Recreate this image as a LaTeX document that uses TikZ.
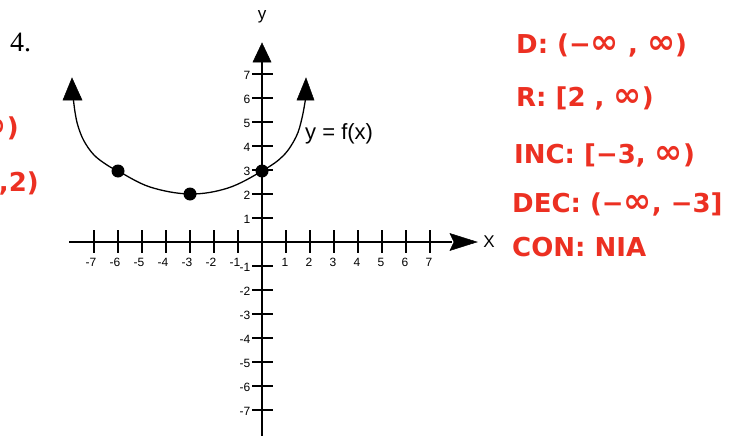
\documentclass[tikz,border=0pt]{standalone}
\usepackage{fontspec}
\setmainfont{Liberation Serif}
\setsansfont{Liberation Sans}
\newfontfamily\handfont{DejaVu Sans}
\definecolor{inkred}{RGB}{236,48,34}
\begin{document}
\begin{tikzpicture}[x=1pt,y=-1pt,
  axisline/.style={line width=2pt,black},
  tickline/.style={line width=1.6pt,black},
  ticklab/.style={font=\sffamily\fontsize{12}{12}\selectfont,inner sep=0pt},
  curveline/.style={line width=1.3pt,black},
  headtri/.style={fill=black,draw=black,line width=0.5pt,line join=miter},
  dotmark/.style={circle,fill=black,minimum size=13pt,inner sep=0pt},
  redtext/.style={font=\handfont\bfseries\fontsize{26}{26}\selectfont,text=inkred,anchor=west,inner sep=0pt},
  bigi/.style={}]
\useasboundingbox (0,0) rectangle (738,436);
\clip (0,0) rectangle (738,436);
\fill[white] (0,0) rectangle (738,436);
% problem number
\node[font=\rmfamily\fontsize{28}{28}\selectfont,anchor=west,inner sep=0pt] (num) at (10,42) {4.};
% axes
\draw[axisline] (69,242) -- (452,242);
\draw[axisline] (262,60) -- (262,436);
\fill[headtri] (477,242) -- (450,233.5) -- (454,242) -- (450,250.5) -- cycle;
\fill[headtri] (262,43) -- (253,62) -- (271,62) -- cycle;
\node[font=\sffamily\fontsize{17}{17}\selectfont,inner sep=0pt] (xlab) at (489,242) {X};
\node[font=\sffamily\fontsize{17}{17}\selectfont,inner sep=0pt] (ylab) at (262,17) {y};
% ticks and labels on x axis
\foreach \i in {-7,...,-1} {
  \draw[tickline] ({262+24*\i},230) -- ({262+24*\i},253);
  \node[ticklab] at ({259+24*\i},262) {-\the\numexpr-\i\relax};
}
\foreach \i in {1,...,7} {
  \draw[tickline] ({262+24*\i},230) -- ({262+24*\i},253);
  \node[ticklab] at ({261+24*\i},262) {\i};
}
% ticks and labels on y axis
\foreach \i in {1,...,7} {
  \draw[tickline] (252,{242-24*\i}) -- (273,{242-24*\i});
  \node[ticklab] at (247,{243-24*\i}) {\i};
}
\foreach \i in {-7,...,-1} {
  \draw[tickline] (252,{242-24*\i}) -- (273,{242-24*\i});
  \node[ticklab] at (245,{243-24*\i}) {-\the\numexpr-\i\relax};
}
% curve
\draw[curveline] plot[smooth,tension=0.6] coordinates {
  (73,96) (75,112) (78,126) (84,141) (94,155) (107,165) (118,171)
  (150,187) (190,194) (228,188) (262,171) (283,156) (296,137) (302,118) (306,96)};
\fill[headtri] (72,78) -- (63,100) -- (82,100) -- cycle;
\fill[headtri] (306,78) -- (297,100) -- (314,100) -- cycle;
\node[dotmark] (p1) at (118,171) {};
\node[dotmark] (p2) at (190,194) {};
\node[dotmark] (p3) at (262,171) {};
\node[font=\sffamily\fontsize{22}{22}\selectfont,anchor=west,inner sep=0pt] (flab) at (305,134) {y = f(x)};
% red annotations
\node[redtext] (dom) at (516,45) {D: (−\scalebox{1.3}{∞} , \scalebox{1.3}{∞})};
\node[redtext] (ran) at (516,98) {R: [2 , \scalebox{1.3}{∞})};
\node[redtext] (inc) at (514,155) {INC: [−3, \scalebox{1.3}{∞})};
\node[redtext] (dec) at (512,204) {DEC: (−\scalebox{1.3}{∞}, −3]};
\node[redtext] (con) at (512,247) {CON: NIA};
\node[redtext,anchor=east] (cutA) at (19,128) {\scalebox{1.3}{∞})};
\node[redtext,anchor=east] (cutB) at (39,183) {,2)};
\end{tikzpicture}
\end{document}
